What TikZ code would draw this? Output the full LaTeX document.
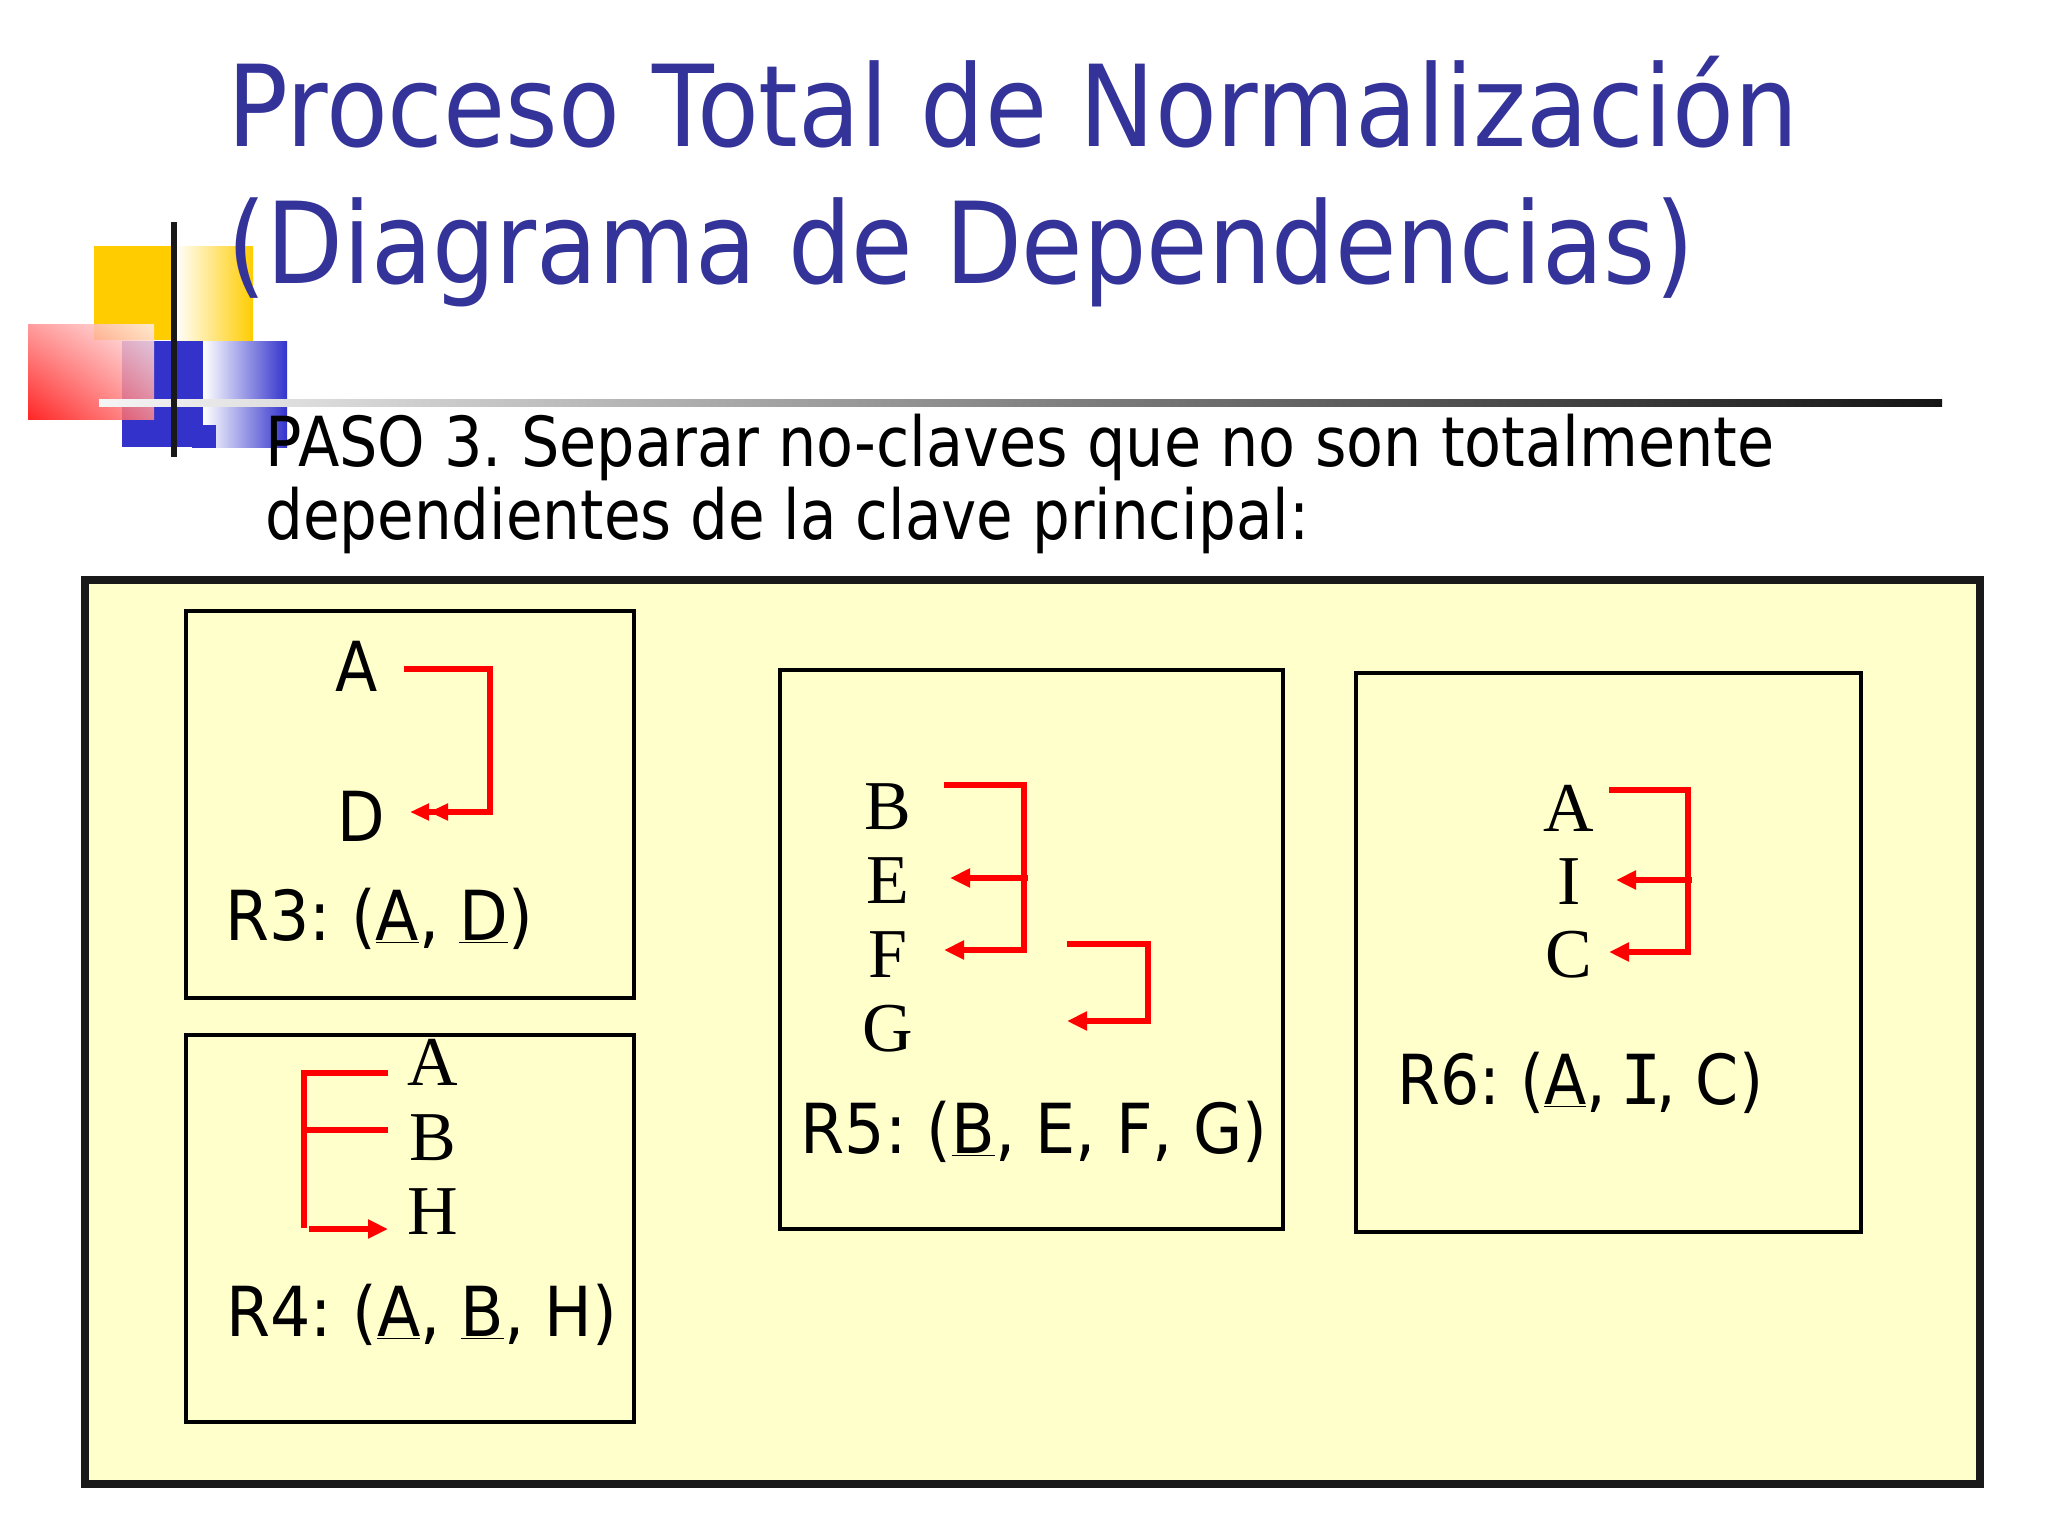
\documentclass[tikz,border=0pt]{standalone}
\usepackage{graphicx}
\usepackage{fontspec}
\setmainfont[FakeStretch=0.895]{DejaVu Sans}
\newfontfamily\serifletters{Liberation Serif}
\newfontfamily\ibeamfont{DejaVu Sans Mono}
\usetikzlibrary{arrows.meta,shadings}
\definecolor{titleblue}{RGB}{51,51,153}
\definecolor{paleyellow}{RGB}{255,255,204}
\definecolor{logoyellow}{RGB}{255,204,0}
\definecolor{logoblue}{RGB}{51,51,204}
\definecolor{depred}{RGB}{255,0,0}
\frenchspacing
\newcommand{\hsc}[2]{\scalebox{#1}[1]{#2}}
\begin{document}
\begin{tikzpicture}[x=0.5pt,y=-0.5pt,
  titletext/.style={anchor=base west,inner sep=0,text=titleblue,font=\fontsize{56.5}{60}\selectfont},
  bodytext/.style={anchor=base west,inner sep=0,font=\fontsize{34.5}{40}\selectfont},
  attr/.style={anchor=base,inner sep=0,font=\fontsize{34.5}{40}\selectfont},
  serifattr/.style={anchor=base,inner sep=0,font=\serifletters\fontsize{35}{40}\selectfont},
  relbox/.style={draw=black,line width=2.25pt},
  dep/.style={draw=depred,line width=2.6pt},
  deparrow/.style={dep,-{Triangle[length=10pt,width=9pt]}},
  dbl/.style={dep,-{Triangle[length=9.5pt,width=8pt]Triangle[length=9.5pt,width=8pt]}},
]
\useasboundingbox (0,0) rectangle (2048,1536);
\fill[white] (0,0) rectangle (2048,1536);

% logo
\fill[logoyellow] (94,246) rectangle (175,340);
\shade[left color=white, right color=logoyellow] (175,246) rectangle (253,340);
\fill[logoblue] (122,341) rectangle (203,447);
\shade[left color=white, right color=logoblue] (203,341) rectangle (287,447);
\fill[logoblue] (192,425) rectangle (216,448);
\shade[opacity=0.85, upper left=red!45!white, upper right=red!6!white, lower left=red, lower right=red!45!white] (28,324) rectangle (154,419);
\shade[left color=black!4, right color=black!92] (99,399) rectangle (1942,406);
\fill[black!90] (171,222) rectangle (177,457);

% titles
\node[titletext] (t1) at (227,147) {Proceso Total de Normalización};
\node[titletext] (t2) at (227,283) {\hsc{0.988}{(Diagrama de Dependencias)}};
\node[bodytext] (p1) at (265,466) {\hsc{0.979}{PASO 3. Separar no-claves que no son totalmente}};
\node[bodytext] (p2) at (265,539) {\hsc{0.964}{dependientes de la clave principal:}};

% outer box
\draw[line width=4pt, fill=paleyellow, draw=black!90] (85,580) rectangle (1980,1484);

% R3
\draw[relbox] (186,611) rectangle (634,998);
\node[attr] (r3a) at (357,691) {A};
\node[attr] (r3d) at (361,841) {D};
\coordinate (r3s) at (404,669);
\coordinate (r3c1) at (490,669);
\coordinate (r3c2) at (490,812);
\coordinate (r3t) at (410,812);
\draw[dbl] (r3s) -- (r3c1) -- (r3c2) -- (r3t);
\node[bodytext] (r3l) at (225,940) {\hsc{1.025}{R3: (\underline{A}, \underline{D})}};

% R4
\draw[relbox] (186,1035) rectangle (634,1422);
\node[serifattr] (r4a) at (433,1085) {A};
\node[serifattr] (r4b) at (433,1160) {B};
\node[serifattr] (r4h) at (433,1234) {H};
\coordinate (r4as) at (388,1073);
\coordinate (r4top) at (304,1073);
\coordinate (r4bot) at (304,1228);
\coordinate (r4bs) at (388,1130);
\coordinate (r4bj) at (304,1130);
\coordinate (r4hs) at (309,1229);
\coordinate (r4ht) at (388,1229);
\draw[dep] (r4as) -- (r4top) -- (r4bot);
\draw[dep] (r4bs) -- (r4bj);
\draw[deparrow] (r4hs) -- (r4ht);
\node[bodytext] (r4l) at (226,1336) {\hsc{1.027}{R4: (\underline{A}, \underline{B}, H)}};

% R5
\draw[relbox] (780,670) rectangle (1283,1229);
\node[serifattr] (r5b) at (888,829) {B};
\node[serifattr] (r5e) at (888,903) {E};
\node[serifattr] (r5f) at (888,977) {F};
\node[serifattr] (r5g) at (888,1051) {G};
\coordinate (r5bs) at (944,785);
\coordinate (r5c1) at (1024,785);
\coordinate (r5c2) at (1024,950);
\coordinate (r5ft) at (944,950);
\coordinate (r5es) at (1028,878);
\coordinate (r5et) at (950,878);
\draw[deparrow] (r5bs) -- (r5c1) -- (r5c2) -- (r5ft);
\draw[deparrow] (r5es) -- (r5et);
\coordinate (r5fs) at (1067,944);
\coordinate (r5d1) at (1148,944);
\coordinate (r5d2) at (1148,1021);
\coordinate (r5gt) at (1067,1021);
\draw[deparrow] (r5fs) -- (r5d1) -- (r5d2) -- (r5gt);
\node[bodytext] (r5l) at (800,1153) {\hsc{1.03}{R5: (\underline{B}, E, F, G)}};

% R6
\draw[relbox] (1356,673) rectangle (1861,1232);
\node[serifattr] (r6a) at (1569,831) {A};
\node[serifattr] (r6i) at (1569,904) {I};
\node[serifattr] (r6c) at (1569,977) {C};
\coordinate (r6as) at (1609,790);
\coordinate (r6c1) at (1688,790);
\coordinate (r6c2) at (1688,952);
\coordinate (r6ct) at (1609,952);
\coordinate (r6is) at (1692,880);
\coordinate (r6it) at (1616,880);
\draw[deparrow] (r6as) -- (r6c1) -- (r6c2) -- (r6ct);
\draw[deparrow] (r6is) -- (r6it);
\node[bodytext] (r6l) at (1397,1104) {R6: (\underline{A}, \makebox[0.45em][c]{\ibeamfont I}, C)};
\end{tikzpicture}
\end{document}
